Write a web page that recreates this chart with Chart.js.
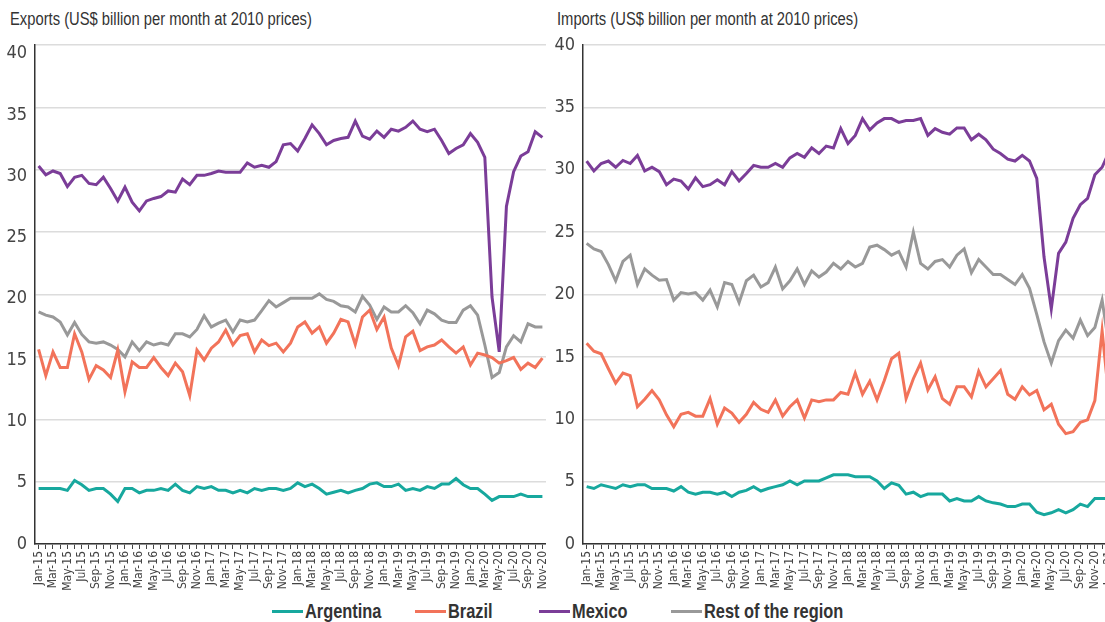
<!DOCTYPE html>
<html>
<head>
<meta charset="utf-8">
<script src="https://cdn.jsdelivr.net/npm/chart.js@4.4.1/dist/chart.umd.min.js"></script>
<style>
  html, body { margin: 0; padding: 0; background: #fff; width: 1105px; height: 622px; overflow: hidden; }
  .panel { position: absolute; top: 0; height: 594px; }
  .title { position: absolute; top: 9px; font: 18px "Liberation Sans", Arial, sans-serif; color: #333;
           white-space: nowrap; transform: scaleX(0.82); transform-origin: left top; }
  .legend-item { position: absolute; top: 599px; display: flex; align-items: center; white-space: nowrap; }
  .legend-item .mark { display: inline-block; width: 31px; height: 3px; margin-right: 2px; }
  .legend-item .txt { display: inline-block; font: bold 21px "Liberation Sans", Arial, sans-serif; color: #333;
                      transform: scaleX(0.78); transform-origin: left center; }
</style>
</head>
<body>
<div class="title" style="left:10px">Exports (US$ billion per month at 2010 prices)</div>
<div class="title" style="left:557px">Imports (US$ billion per month at 2010 prices)</div>
<div class="panel" style="left:0; width:546px"><canvas id="exportsChart"></canvas></div>
<div class="panel" style="left:548px; width:565px"><canvas id="importsChart"></canvas></div>

<div class="legend-item" style="left:272px"><span class="mark" style="background:#17a89e"></span><span class="txt">Argentina</span></div>
<div class="legend-item" style="left:415px"><span class="mark" style="background:#f2735a"></span><span class="txt">Brazil</span></div>
<div class="legend-item" style="left:539px"><span class="mark" style="background:#7b3d98"></span><span class="txt">Mexico</span></div>
<div class="legend-item" style="left:671px"><span class="mark" style="background:#999999"></span><span class="txt">Rest of the region</span></div>

<script>
// Month labels (x axis)
const exportMonths = [
  'Jan-15','Feb-15','Mar-15','Apr-15','May-15','Jun-15','Jul-15','Aug-15','Sep-15','Oct-15','Nov-15','Dec-15',
  'Jan-16','Feb-16','Mar-16','Apr-16','May-16','Jun-16','Jul-16','Aug-16','Sep-16','Oct-16','Nov-16','Dec-16',
  'Jan-17','Feb-17','Mar-17','Apr-17','May-17','Jun-17','Jul-17','Aug-17','Sep-17','Oct-17','Nov-17','Dec-17',
  'Jan-18','Feb-18','Mar-18','Apr-18','May-18','Jun-18','Jul-18','Aug-18','Sep-18','Oct-18','Nov-18','Dec-18',
  'Jan-19','Feb-19','Mar-19','Apr-19','May-19','Jun-19','Jul-19','Aug-19','Sep-19','Oct-19','Nov-19','Dec-19',
  'Jan-20','Feb-20','Mar-20','Apr-20','May-20','Jun-20','Jul-20','Aug-20','Sep-20','Oct-20','Nov-20'
];
const importMonths = exportMonths.concat(['Dec-20', 'Jan-21']);

// Y axis tick labels
const yTicks = [0, 5, 10, 15, 20, 25, 30, 35, 40];

// Exports, US$ billion per month at 2010 prices
const exportsArgentina = [4.45,4.45,4.45,4.45,4.3,5.1,4.75,4.3,4.45,4.45,4.0,3.4,
  4.45,4.45,4.1,4.3,4.3,4.45,4.3,4.8,4.3,4.1,4.6,4.45,
  4.6,4.3,4.3,4.1,4.3,4.1,4.45,4.3,4.45,4.45,4.3,4.45,
  4.9,4.6,4.8,4.45,4.0,4.15,4.3,4.1,4.3,4.45,4.8,4.9,
  4.6,4.6,4.8,4.3,4.45,4.3,4.6,4.45,4.8,4.8,5.25,4.75,
  4.45,4.45,4.0,3.5,3.8,3.8,3.8,4.0,3.8,3.8,3.8];
const exportsBrazil = [15.6,13.5,15.4,14.15,14.15,16.85,15.4,13.2,14.3,13.95,13.35,15.55,
  12.2,14.6,14.15,14.15,14.95,14.15,13.5,14.5,13.8,11.9,15.55,14.75,
  15.7,16.2,17.15,15.95,16.7,16.85,15.4,16.35,15.9,16.1,15.4,16.1,
  17.4,17.8,16.9,17.4,16.1,16.9,18.0,17.8,16.0,18.2,18.75,17.2,
  18.2,15.7,14.3,16.6,17.05,15.5,15.8,15.95,16.35,15.8,15.3,15.8,
  14.35,15.3,15.15,14.95,14.5,14.7,14.95,14.0,14.5,14.15,14.9];
const exportsMexico = [30.3,29.6,29.9,29.7,28.65,29.4,29.55,28.9,28.8,29.4,28.5,27.5,
  28.6,27.4,26.7,27.5,27.7,27.85,28.3,28.2,29.25,28.8,29.55,29.55,
  29.7,29.9,29.8,29.8,29.8,30.55,30.2,30.35,30.2,30.65,32.0,32.1,
  31.5,32.5,33.6,32.9,32.0,32.35,32.5,32.6,33.9,32.7,32.45,33.1,
  32.6,33.25,33.1,33.4,33.9,33.25,33.05,33.25,32.35,31.3,31.7,32.0,
  32.9,32.2,31.0,19.8,15.4,27.05,29.85,31.1,31.45,33.05,32.6];
const exportsRest = [18.6,18.35,18.2,17.8,16.75,17.75,16.8,16.2,16.1,16.2,15.95,15.6,
  15.0,16.2,15.5,16.2,15.95,16.1,15.95,16.85,16.85,16.6,17.2,18.3,
  17.4,17.7,17.95,17.0,17.95,17.8,17.95,18.7,19.5,19.0,19.35,19.7,
  19.7,19.7,19.7,20.05,19.6,19.45,19.1,19.0,18.6,19.85,19.15,18.0,
  19.0,18.6,18.6,19.1,18.55,17.65,18.75,18.45,17.95,17.75,17.75,18.75,
  19.1,18.35,15.95,13.35,13.75,15.8,16.7,16.2,17.65,17.4,17.4];

// Imports, US$ billion per month at 2010 prices
const importsArgentina = [4.6,4.45,4.75,4.6,4.45,4.75,4.6,4.75,4.75,4.45,4.45,4.45,
  4.25,4.6,4.15,4.0,4.15,4.15,4.0,4.15,3.8,4.15,4.3,4.6,
  4.25,4.45,4.6,4.75,5.05,4.75,5.05,5.05,5.05,5.3,5.55,5.55,
  5.55,5.4,5.4,5.4,5.05,4.45,4.9,4.7,4.0,4.15,3.8,4.0,
  4.0,4.0,3.45,3.65,3.45,3.45,3.8,3.45,3.3,3.2,3.0,3.0,
  3.2,3.2,2.55,2.35,2.5,2.75,2.5,2.75,3.2,3.0,3.65,3.65,3.65];
const importsBrazil = [16.1,15.45,15.25,14.05,12.9,13.7,13.5,11.0,11.6,12.3,11.55,10.35,
  9.4,10.4,10.55,10.25,10.25,11.65,9.6,10.9,10.5,9.75,10.4,11.35,
  10.8,10.55,11.55,10.25,11.0,11.55,10.1,11.55,11.4,11.55,11.55,12.15,
  12.0,13.7,12.0,13.05,11.55,13.1,14.85,15.3,11.65,13.25,14.5,12.35,
  13.4,11.65,11.2,12.6,12.6,11.8,13.85,12.6,13.25,13.9,12.0,11.6,
  12.6,11.95,12.3,10.75,11.2,9.6,8.85,9.0,9.75,9.95,11.5,17.1,11.3];
const importsMexico = [30.7,29.9,30.5,30.7,30.2,30.75,30.5,31.15,29.9,30.2,29.85,28.8,
  29.25,29.1,28.45,29.35,28.65,28.8,29.2,28.8,29.85,29.1,29.7,30.35,
  30.2,30.2,30.5,30.2,30.95,31.3,31.0,31.75,31.3,31.9,31.75,33.3,
  32.1,32.75,34.1,33.2,33.75,34.1,34.1,33.8,33.95,33.95,34.1,32.75,
  33.3,33.0,32.85,33.35,33.35,32.4,32.85,32.4,31.65,31.3,30.85,30.7,
  31.15,30.7,29.3,23.0,18.85,23.3,24.2,26.1,27.2,27.7,29.6,30.2,31.5];
const importsRest = [24.1,23.65,23.45,22.4,21.1,22.65,23.15,20.8,22.05,21.55,21.15,21.2,
  19.55,20.15,20.05,20.15,19.55,20.35,19.0,20.95,20.8,19.35,21.1,21.55,
  20.6,20.95,22.2,20.45,21.1,22.05,20.8,21.9,21.4,21.8,22.5,22.05,
  22.65,22.2,22.5,23.8,23.95,23.6,23.15,23.45,22.2,25.0,22.5,22.05,
  22.65,22.8,22.2,23.15,23.65,21.75,22.8,22.2,21.6,21.6,21.2,20.8,
  21.6,20.5,18.4,16.2,14.5,16.3,17.15,16.5,17.95,16.7,17.35,19.55,15.7];

const seriesNames = ['Argentina', 'Brazil', 'Mexico', 'Rest of the region'];
const seriesColors = ['#17a89e', '#f2735a', '#7b3d98', '#999999'];

const FONT = '"DejaVu Sans Condensed", "Liberation Sans", sans-serif';

function buildChart(canvasId, labels, values, labelMax) {
  const ctx = document.getElementById(canvasId).getContext('2d');
  return new Chart(ctx, {
    type: 'line',
    data: {
      labels: labels,
      datasets: values.map((data, i) => ({
        label: seriesNames[i],
        data: data,
        borderColor: seriesColors[i],
        backgroundColor: seriesColors[i],
        borderWidth: 3,
        pointRadius: 0,
        tension: 0,
        fill: false
      }))
    },
    options: {
      responsive: true,
      maintainAspectRatio: false,
      animation: false,
      layout: { padding: { top: 45, left: 0, right: 0, bottom: 0 } },
      plugins: { legend: { display: false }, tooltip: { enabled: false } },
      scales: {
        x: {
          offset: true,
          grid: { drawOnChartArea: false, drawTicks: true, tickLength: 5, color: '#444', lineWidth: 1 },
          border: { display: true, color: '#333', width: 1.5 },
          ticks: {
            autoSkip: false,
            maxRotation: 90,
            minRotation: 90,
            padding: 2,
            color: '#444',
            font: { family: FONT, size: 12 },
            callback: function (value, index) {
              return index % 2 === 0 ? this.getLabelForValue(value) : '';
            }
          },
          afterFit: (scale) => { scale.height = 50; scale.paddingLeft = 0; scale.paddingRight = 0; }
        },
        y: {
          position: 'left',
          weight: 0,
          min: 0,
          max: 40,
          grid: { color: '#dcdcdc', lineWidth: 1.5, drawTicks: false },
          border: { display: true, color: '#333', width: 1.5 },
          ticks: { display: false, stepSize: 5 },
          afterFit: (scale) => { scale.width = 0; }
        },
        yLabels: {
          position: 'left',
          weight: 10,
          min: 0,
          max: labelMax,
          grid: { display: false, drawTicks: false },
          border: { display: false },
          ticks: { color: '#444', padding: 8, font: { family: FONT, size: 18 } },
          afterBuildTicks: (scale) => { scale.ticks = yTicks.map(v => ({ value: v })); },
          afterFit: (scale) => { scale.width = 35; }
        }
      }
    }
  });
}

buildChart('exportsChart', exportMonths,
  [exportsArgentina, exportsBrazil, exportsMexico, exportsRest], 40.7);
buildChart('importsChart', importMonths,
  [importsArgentina, importsBrazil, importsMexico, importsRest], 40);
</script>
</body>
</html>
